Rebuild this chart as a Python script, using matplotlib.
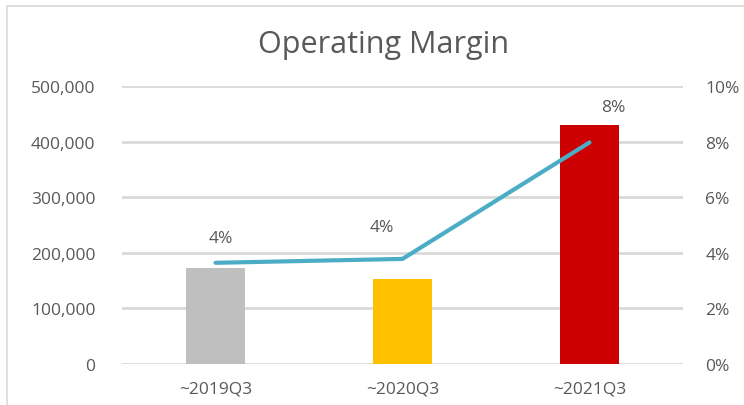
import matplotlib
matplotlib.use("Agg")
import matplotlib.pyplot as plt
from matplotlib.patches import Rectangle
from matplotlib.ticker import FuncFormatter

plt.rcParams['font.family'] = ['Open Sans', 'DejaVu Sans']

periods = ['~2019Q3', '~2020Q3', '~2021Q3']
op_income = [172500, 153000, 429000]
op_margin = [3.64, 3.78, 7.97]
margin_labels = ['4%', '4%', '8%']
bar_colors = ['#BFBFBF', '#FFC000', '#CC0000']

txt = '#595959'
grid = '#D9D9D9'

fig = plt.figure(figsize=(7.44, 4.06), dpi=100)
fig.patches.append(Rectangle((7 / 744, -0.1), 1.2, 1 - 7 / 406 + 0.1,
                             transform=fig.transFigure, fill=False,
                             edgecolor=grid, linewidth=1.2))

ax = fig.add_axes([122 / 744, 1 - 365 / 406, 561 / 744, 278 / 406])
x = list(range(len(periods)))
ax.bar(x, op_income, width=0.315, color=bar_colors, zorder=2)
ax.set_xlim(-0.5, 2.5)
ax.set_ylim(0, 500000)
ax.set_yticks(range(0, 500001, 100000))
ax.yaxis.set_major_formatter(FuncFormatter(lambda v, p: f'{int(v):,}'))
ax.set_xticks(x)
ax.set_xticklabels(periods)
ax.grid(axis='y', color=grid, linewidth=2, zorder=0)
for s in ax.spines.values():
    s.set_visible(False)
ax.tick_params(length=0, colors=txt, labelsize=12.5)
ax.tick_params(axis='y', pad=19)
ax.tick_params(axis='x', pad=12)

ax2 = ax.twinx()
ax2.plot(x, op_margin, color='#4BACC6', linewidth=3, solid_capstyle='round', zorder=3)
ax2.set_ylim(0, 10)
ax2.set_yticks(range(0, 11, 2))
ax2.yaxis.set_major_formatter(FuncFormatter(lambda v, p: f'{int(v)}%'))
for s in ax2.spines.values():
    s.set_visible(False)
ax2.tick_params(length=0, colors=txt, labelsize=12.5, pad=16)

offsets = [(5, 25), (-21, 32), (24, 35)]
for xi, yi, lab, off in zip(x, op_margin, margin_labels, offsets):
    ax2.annotate(lab, (xi, yi), xytext=off, textcoords='offset pixels',
                 ha='center', va='center', color=txt, fontsize=12.5)

fig.text(384 / 744, 1 - 45 / 406, 'Operating Margin', ha='center', va='center',
         color=txt, fontsize=22)

fig.savefig('out.png', dpi=100)
